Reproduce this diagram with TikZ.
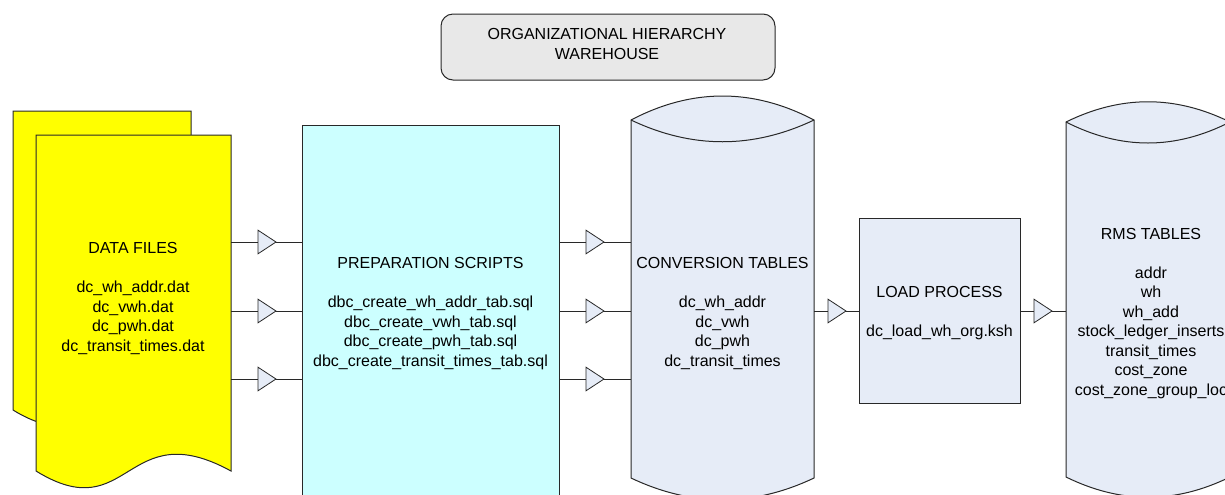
\documentclass[tikz,border=0pt]{standalone}
\usepackage{fontspec}
\setmainfont{Liberation Sans}
\definecolor{cylfill}{RGB}{230,236,247}
\definecolor{prepfill}{RGB}{204,255,255}
\definecolor{titlefill}{RGB}{232,232,232}
\definecolor{docfill}{RGB}{255,255,0}
\definecolor{edge}{RGB}{40,40,40}
\begin{document}
\begin{tikzpicture}[x=0.75pt,y=-0.75pt,
  shapeline/.style={draw=edge, line width=0.75pt},
  txt/.style={align=center, font=\fontsize{12}{14.6}\selectfont, inner sep=0pt},
  conn/.style={draw=edge, line width=0.75pt},
  trifill/.style={fill=cylfill, draw=edge, line width=0.6pt, line join=miter},
  tri/.pic={\path[trifill] (0,-11.8) -- (18,0) -- (0,11.8) -- cycle;},
  titlebox/.style={shapeline, fill=titlefill, rounded corners=9pt, minimum width=250.5pt, minimum height=49.5pt, inner sep=0pt},
  boxstyle/.style={shapeline, inner sep=0pt}]
\useasboundingbox (0,0) rectangle (1225,494);
\clip (0,0) rectangle (1225,494);

% title
\node[titlebox] (title) at (608,47) {};
\node[txt] (titletext) at (607,44) {ORGANIZATIONAL HIERARCHY\\WAREHOUSE};

% data files (stacked documents)
\path[shapeline, fill=docfill] (13,410) -- (13,111) -- (191,111) -- (191,410)
  .. controls (94,357) and (99,463) .. (13,410) -- cycle;
\path[shapeline, fill=docfill] (36,471) -- (36,135) -- (231,135) -- (231,471)
  .. controls (125,413) and (130,529) .. (36,471) -- cycle;
\node[txt] (datatext) at (133,298.5) {DATA FILES\\[14.6pt]dc\_wh\_addr.dat\\dc\_vwh.dat\\dc\_pwh.dat\\dc\_transit\_times.dat};

% preparation scripts
\node[boxstyle, fill=prepfill, minimum width=192.75pt, minimum height=296.25pt] (prep) at (430.5,322.5) {};
\node[txt] (preptext) at (430.5,313.5) {PREPARATION SCRIPTS\\[14.6pt]dbc\_create\_wh\_addr\_tab.sql\\dbc\_create\_vwh\_tab.sql\\dbc\_create\_pwh\_tab.sql\\dbc\_create\_transit\_times\_tab.sql};

% conversion tables cylinder
\path[shapeline, fill=cylfill] (631,120) .. controls (692,88) and (753,88) .. (814,120)
  -- (814,478) .. controls (753,507) and (692,507) .. (631,478) -- cycle;
\draw[shapeline] (631,120) .. controls (692,149) and (753,149) .. (814,120);
\node[txt] (convtext) at (722.5,313.5) {CONVERSION TABLES\\[14.6pt]dc\_wh\_addr\\dc\_vwh\\dc\_pwh\\dc\_transit\_times};

% load process
\node[boxstyle, fill=cylfill, minimum width=120.75pt, minimum height=138.75pt] (load) at (939.5,310.5) {};
\node[txt] (loadtext) at (939.5,313.5) {LOAD PROCESS\\[14.6pt]dc\_load\_wh\_org.ksh};

% RMS tables cylinder
\path[shapeline, fill=cylfill] (1066,122) .. controls (1121,95) and (1175,95) .. (1230,122)
  -- (1230,477) .. controls (1175,504) and (1121,504) .. (1066,477) -- cycle;
\draw[shapeline] (1066,122) .. controls (1121,150) and (1175,150) .. (1230,122);
\node[txt] (rmstext) at (1151,313.5) {RMS TABLES\\[14.6pt]addr\\wh\\wh\_add\\stock\_ledger\_inserts\\transit\_times\\cost\_zone\\cost\_zone\_group\_loc};

% connector end points
\coordinate (d1) at (231,242); \coordinate (pa1) at (302,242);
\coordinate (d2) at (231,311); \coordinate (pa2) at (302,311);
\coordinate (d3) at (231,379); \coordinate (pa3) at (302,379);
\coordinate (pb1) at (559,242); \coordinate (c1) at (631,242);
\coordinate (pb2) at (559,311); \coordinate (c2) at (631,311);
\coordinate (pb3) at (559,379); \coordinate (c3) at (631,379);
\coordinate (cout) at (814,311); \coordinate (lin) at (859,311);
\coordinate (lout) at (1020,311); \coordinate (rin) at (1066,311);

\draw[conn] (d1) -- (pa1);
\draw[conn] (d2) -- (pa2);
\draw[conn] (d3) -- (pa3);
\draw[conn] (pb1) -- (c1);
\draw[conn] (pb2) -- (c2);
\draw[conn] (pb3) -- (c3);
\draw[conn] (cout) -- (lin);
\draw[conn] (lout) -- (rin);

\pic at (258,242) {tri};
\pic at (258,311) {tri};
\pic at (258,379) {tri};
\pic at (586,242) {tri};
\pic at (586,311) {tri};
\pic at (586,379) {tri};
\pic at (828,311) {tri};
\pic at (1034,311) {tri};
\end{tikzpicture}
\end{document}
